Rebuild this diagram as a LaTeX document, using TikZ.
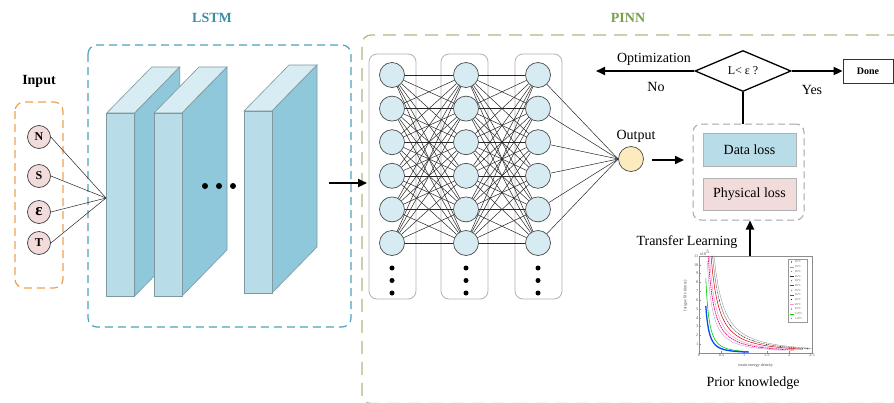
\documentclass[tikz,border=0pt]{standalone}
\usepackage{fontspec}
\setmainfont{Liberation Serif}
\usetikzlibrary{arrows.meta,shapes.geometric}
\definecolor{slabfront}{HTML}{B8DDE8}
\definecolor{slabside}{HTML}{8FC8DA}
\definecolor{slabtop}{HTML}{D7ECF3}
\definecolor{slabedge}{HTML}{7F979F}
\definecolor{nnblue}{HTML}{D6EBF2}
\definecolor{inpink}{HTML}{F2DCDB}
\definecolor{outyellow}{HTML}{FDEBC0}
\definecolor{lstmblue}{HTML}{4EA3BD}
\definecolor{lstmtext}{HTML}{3D8EA6}
\definecolor{pinngreen}{HTML}{A8BC80}
\definecolor{pinntext}{HTML}{7A9E4A}
\definecolor{inorange}{HTML}{F0A050}
\definecolor{databox}{HTML}{B8DDE8}
\definecolor{physbox}{HTML}{F2DCDB}
\newcommand\drawslab[3]{%
  \filldraw[draw=slabedge, line width=0.6pt, fill=slabtop] (#1,#2) -- ++(28,0) -- ++(45,-46) -- ++(-28,0) -- cycle;
  \filldraw[draw=slabedge, line width=0.6pt, fill=slabside] (#1+28,#2) -- ++(45,-46) -- (#1+73,#3-46) -- (#1+28,#3) -- cycle;
  \filldraw[draw=slabedge, line width=0.6pt, fill=slabfront] (#1,#2) rectangle (#1+28,#3);
}
\begin{document}
\begin{tikzpicture}[x=1pt,y=-1pt,
  neuron/.style={circle, draw=black!70, fill=nnblue, minimum size=25pt, inner sep=0pt, line width=0.7pt},
  inp/.style={circle, draw=black!75, fill=inpink, minimum size=23pt, inner sep=0pt, line width=0.7pt, font=\fontsize{12}{12}\selectfont\bfseries},
  conn/.style={line width=0.5pt, black!85},
  bigarrow/.style={line width=1.8pt, -{Triangle[length=9pt,width=8pt]}},
  colbox/.style={draw=black!30, rounded corners=8pt, line width=0.8pt, minimum width=47pt, minimum height=245pt, inner sep=0pt},
  lbl/.style={font=\fontsize{14}{14}\selectfont},
  title/.style={font=\fontsize{14}{14}\selectfont\bfseries},
  tick/.style={font=\fontsize{4.2}{4.5}\selectfont, inner sep=0.6pt, text=black!70},
  leg/.style={font=\fontsize{2.8}{3}\selectfont, inner sep=0pt, anchor=west, text=black!70},
  dotmark/.style={circle, fill=black, minimum size=6pt, inner sep=0pt}
]
\useasboundingbox (0,0) rectangle (894,402);
\fill[white] (0,0) rectangle (894,402);

% ---------- titles ----------
\node[title, text=lstmtext] (tlstm) at (212,18) {LSTM};
\node[title, text=pinntext] (tpinn) at (628,18) {PINN};
\node[title] (tinput) at (39,81) {Input};

% ---------- frames ----------
\draw[inorange, line width=1.2pt, dash pattern=on 8pt off 5pt, rounded corners=9pt] (15,102) rectangle (63,288);
\draw[lstmblue, line width=1.2pt, dash pattern=on 8pt off 5pt, rounded corners=9pt] (88,45) rectangle (351,327);
\draw[pinngreen, line width=1.2pt, dash pattern=on 13pt off 8pt, rounded corners=9pt] (900,35) -- (362,35) -- (362,403.5) -- (900,403.5);

% ---------- input nodes ----------
\node[inp] (iN) at (39,137) {N};
\node[inp] (iS) at (39,176) {S};
\node[inp, font=\fontsize{17}{17}\selectfont\bfseries] (iE) at (39,212) {ε};
\node[inp] (iT) at (39,243) {T};
\coordinate (conv) at (106,198);
\foreach \n in {iN,iS,iE,iT} \draw[conn] (\n.east) -- (conv);

% ---------- LSTM slabs ----------
\drawslab{106.7}{113}{296}
\drawslab{154}{113}{296}
\drawslab{244}{111}{293}
\foreach \x in {205,219,233} \node[dotmark] (ld\x) at (\x,186) {};

% ---------- arrow to PINN ----------
\coordinate (a1) at (329,183);
\coordinate (a2) at (367,183);
\draw[bigarrow] (a1) -- (a2);

% ---------- network ----------
\node[colbox] (c1) at (392.5,176.5) {};
\node[colbox] (c2) at (464.5,176.5) {};
\node[colbox] (c3) at (538.5,176.5) {};
\foreach \c/\x in {1/392,2/466,3/538}{
  \foreach \r in {1,...,6}{
    \node[neuron] (n\c\r) at (\x,{75+33.6*(\r-1)}) {};
  }
  \foreach \y in {268,280.5,293} \node[circle, fill=black, minimum size=5pt, inner sep=0pt] at (\x,\y) {};
}
\foreach \i in {1,...,6}{
  \foreach \j in {1,...,6}{
    \draw[conn] (n1\i) -- (n2\j);
    \draw[conn] (n2\i) -- (n3\j);
  }
}
\node[circle, draw=black!70, fill=outyellow, minimum size=25pt, inner sep=0pt, line width=0.7pt] (out) at (631,159) {};
\foreach \i in {1,...,6} \draw[conn] (n3\i) -- (out.west);
\node[lbl] (tout) at (636,136) {Output};

% ---------- loss ----------
\node[draw=black!35, dash pattern=on 7pt off 4pt, line width=1pt, rounded corners=8pt, minimum width=111pt, minimum height=96pt, inner sep=0pt] (loss) at (748.5,172) {};
\node[draw=black!30, fill=databox, minimum width=93pt, minimum height=33pt, inner sep=0pt, lbl] (data) at (749.5,149.5) {Data loss};
\node[draw=black!30, fill=physbox, minimum width=93pt, minimum height=32pt, inner sep=0pt, lbl] (phys) at (749.5,194) {Physical loss};
\coordinate (o1) at (652,160);
\coordinate (o2) at (684,160);
\draw[bigarrow] (o1) -- (o2);

% ---------- decision ----------
\node[diamond, draw=black, line width=1.3pt, minimum width=96pt, minimum height=41pt, inner sep=0pt, aspect=2.3, font=\fontsize{12}{12}\selectfont] (dec) at (743,71) {L< ε ?};
\draw[line width=1.8pt] (dec.south) -- (dec.south |- loss.north);
\coordinate (optend) at (596,71);
\draw[bigarrow] (dec.west) -- (optend);
\node[draw=black!80, line width=0.8pt, minimum width=50pt, minimum height=24pt, inner sep=0pt, font=\fontsize{10}{10}\selectfont\bfseries] (done) at (868,71) {Done};
\draw[bigarrow] (dec.east) -- (done.west);
\node[lbl] (topt) at (654,59) {Optimization};
\node[lbl] (tno) at (656,87) {No};
\node[lbl] (tyes) at (812,90) {Yes};

% ---------- transfer learning ----------
\coordinate (tl) at (750,257);
\draw[bigarrow] (tl) -- (tl |- loss.south);
\node[lbl] (ttl) at (687,242) {Transfer Learning};
\node[lbl] (tprior) at (753,383) {Prior knowledge};

% ---------- plot ----------
\begin{scope}[shift={(699,353)}, x=45.2pt, y=8.82pt]
  \draw[black!45, line width=0.35pt] (0,0) rectangle (2.5,11);
  \foreach \t/\l in {0/0,0.5/0.5,1/1,1.5/1.5,2/2,2.5/2.5} {
    \draw[black!45, line width=0.3pt] (\t,0) -- (\t,0.25);
    \node[tick, below] at (\t,0) {\l};
  }
  \foreach \t in {1,...,11} {
    \draw[black!45, line width=0.3pt] (0,\t) -- (0.04,\t);
    \node[tick, left] at (0,\t) {\t};
  }
  \node[tick, anchor=south west] at (0,11) {x10$^5$};
  \node[tick, rotate=90] at (-0.3,6.5) {fatigue life (times)};
  \node[tick] at (1.25,-1.4) {strain energy density};
  \draw[black!40, line width=0.4pt, domain=0.33:2.5, samples=50] plot (\x,{2.1/(\x^1.5)});
  \draw[black!80, line width=0.4pt, dash pattern=on 1.2pt off 0.6pt, domain=0.30:2.45, samples=50] plot (\x,{1.8/(\x^1.5)});
  \draw[red!85!black, line width=0.5pt, domain=0.265:2.3, samples=50] plot (\x,{1.5/(\x^1.5)});
  \draw[magenta!40, line width=0.5pt, domain=0.228:2.2, samples=50] plot (\x,{1.2/(\x^1.5)});
  \draw[magenta, line width=0.7pt, dash pattern=on 1.5pt off 0.7pt, domain=0.202:2.1, samples=50] plot (\x,{1.0/(\x^1.5)});
  \draw[violet!40, line width=0.4pt, domain=0.18:1.9, samples=50] plot (\x,{0.8/(\x^1.5)});
  \draw[green!80!black, line width=0.6pt, domain=0.15:1.1, samples=50] plot (\x,{0.19/(\x*\x)});
  \draw[blue!70!cyan, line width=1.3pt, domain=0.15:1.1, samples=50] plot (\x,{0.12/(\x*\x)});
  \foreach \p in {0.45,0.7,1.0,1.2,1.5,1.8,2.1,2.4}
    \fill[black!80] (\p,{1.8/(\p^1.5)}) circle (0.55pt);
  \foreach \p in {0.4,0.6,0.85,1.1,1.4,1.7}
    \fill[black!60] (\p,{1.0/(\p^1.5)}) circle (0.5pt);
  \foreach \p in {0.17,0.25,0.4}
    \fill[black!70] (\p,{0.12/(\p*\p)}) circle (0.5pt);
\end{scope}
% legend
\draw[black!40, line width=0.3pt, fill=white] (788,259) rectangle (807,322);
\foreach \k/\c/\t in {0/black/85,1/black!40/85,2/black!50/85,3/black!80/85,4/black!60/85,5/red/85,6/black!50/85,7/magenta/85,8/black/85,9/magenta!40/85,10/black!70/85,11/green!80!black/120,12/cyan!70!blue/120}{
  \ifodd\k
    \draw[\c, line width=0.4pt] (789.5,{262+4.7*\k}) -- (793.5,{262+4.7*\k});
  \else
    \fill[\c] (791.5,{262+4.7*\k}) circle (0.6pt);
  \fi
  \node[leg] at (795,{262+4.7*\k}) {\t°C};
}
\end{tikzpicture}
\end{document}
